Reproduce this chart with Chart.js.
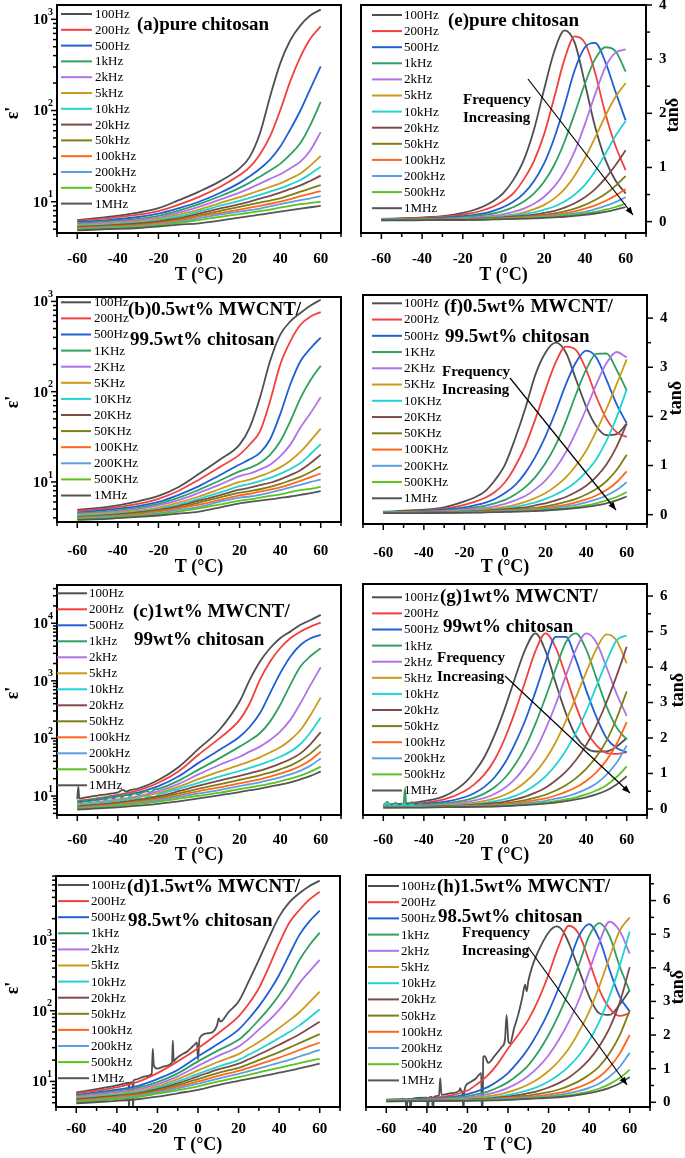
<!DOCTYPE html>
<html><head><meta charset="utf-8">
<script src="https://cdn.jsdelivr.net/npm/chart.js@4.4.1/dist/chart.umd.min.js"></script>
<style>
html,body{margin:0;padding:0;background:#fff}
body{width:685px;height:1158px;position:relative;overflow:hidden}
canvas{position:absolute}
</style></head>
<body>
<script>
// ---------------- DATA ----------------
const LEG_k = ['100Hz','200Hz','500Hz','1kHz','2kHz','5kHz','10kHz','20kHz','50kHz','100kHz','200kHz','500kHz','1MHz'];
const LEG_K = ['100Hz','200Hz','500Hz','1KHz','2KHz','5KHz','10KHz','20KHz','50KHz','100KHz','200KHz','500KHz','1MHz'];
const COLORS = ['#4f4f4f','#f2403f','#1f5fd6','#2ea05f','#b072e6','#cc9a1a','#22d2d2','#7d4a4a','#7e7e14','#ff6619','#5b9fe0','#5bc21f','#555555'];

const T_EPS = [-60,-45,-30,-20,-10,0,10,20,25,30,35,40,45,50,55,60];
const T_TAN = [-60,-45,-30,-20,-15,-10,-5,0,5,10,15,20,25,30,35,40,45,50,55,60];

// (a) eps' pure chitosan
const epsA = [
 [6.3,6.8,7.6,8.5,10.4,12.9,16.6,23.2,31,56,141,327,589,859,1106,1276],
 [6.2,6.6,7.2,7.9,9.3,11.3,14.4,19.6,24,33,52,100,210,387,620,838],
 [6.0,6.3,6.8,7.4,8.5,10.0,12.4,16.1,19,23,29,40,62,100,175,305],
 [5.8,6.1,6.5,7.0,8.0,9.4,11.4,14.2,16.2,18.8,22,26,33,44,70,124],
 [5.6,5.9,6.3,6.7,7.6,8.8,10.5,12.6,14,15.8,17.8,20,23.3,27.5,37,58],
 [5.5,5.7,6.1,6.5,7.2,8.2,9.6,11.2,12.2,13.3,14.5,15.9,17.9,20.4,25,31.7],
 [5.4,5.6,5.9,6.3,6.9,7.8,9.0,10.2,11.0,11.9,12.9,14,15.5,17.3,20.3,24.2],
 [5.3,5.5,5.8,6.1,6.6,7.4,8.4,9.4,10.0,10.8,11.6,12.6,13.8,15.1,17,19.3],
 [5.2,5.4,5.6,5.9,6.4,7.1,7.9,8.8,9.3,9.8,10.3,10.9,11.8,12.9,14.0,15.2],
 [5.1,5.3,5.5,5.8,6.2,6.9,7.5,8.2,8.6,9.0,9.5,10.0,10.7,11.5,12.3,13.1],
 [5.0,5.2,5.4,5.6,6.0,6.6,7.2,7.8,8.1,8.4,8.9,9.4,9.9,10.4,10.9,11.5],
 [4.95,5.1,5.3,5.5,5.85,6.3,6.8,7.3,7.6,7.9,8.2,8.6,9.0,9.4,9.7,10.0],
 [4.85,5.0,5.15,5.35,5.6,5.8,6.2,6.7,6.95,7.2,7.5,7.8,8.1,8.4,8.7,9.0]
];
// (b) eps' 0.5wt% MWCNT
const epsB = [
 [4.9,5.3,6.1,7.0,8.8,12.3,17.5,25.9,40,85,217,426,600,743,900,1043],
 [4.8,5.1,5.7,6.5,8.0,10.6,14.5,20.1,26,36,78,198,360,551,680,762],
 [4.6,4.9,5.4,6.0,7.2,9.0,11.8,15.6,17.8,21,29.5,56,120,217,303,398],
 [4.5,4.7,5.2,5.7,6.7,8.2,10.3,13.1,14.3,16.2,20,28,47,85,135,194],
 [4.4,4.6,5.0,5.5,6.3,7.6,9.3,11.6,12.4,13.7,15.5,19.2,25.9,40,58,86.5],
 [4.3,4.5,4.8,5.2,5.9,6.9,8.3,10.0,10.6,11.6,12.8,14.5,17.2,21.5,28.7,39],
 [4.2,4.4,4.7,5.0,5.6,6.5,7.6,9.0,9.5,10.2,11.1,12.3,13.9,16.2,20.4,26.3],
 [4.1,4.3,4.6,4.9,5.4,6.2,7.1,8.2,8.65,9.2,9.8,10.7,11.9,13.5,16.2,20.1],
 [4.05,4.2,4.5,4.8,5.2,5.9,6.7,7.6,7.9,8.3,8.8,9.5,10.4,11.4,12.9,14.9],
 [4.0,4.15,4.4,4.7,5.1,5.6,6.3,7.1,7.4,7.8,8.2,8.7,9.4,10.3,11.3,12.4],
 [3.95,4.1,4.3,4.5,4.9,5.3,6.0,6.7,6.9,7.2,7.6,8.1,8.7,9.3,10.0,10.6],
 [3.9,4.0,4.2,4.4,4.7,5.1,5.6,6.2,6.4,6.7,7.0,7.3,7.7,8.1,8.4,8.8],
 [3.8,3.9,4.1,4.25,4.45,4.7,5.2,5.8,6.0,6.2,6.4,6.65,6.9,7.2,7.5,7.9]
];
// (c) eps' 1wt% MWCNT (some series have their own noisy temperature lists below)
const epsC = [
 null,
 [8.2,9.8,12.5,17,27,53,100,210,408,1040,2150,3680,5500,7160,8750,10270],
 [7.8,9.2,11.5,14.8,22,38,63,107,158,273,608,1350,2630,4200,5500,6300],
 null,
 [7.2,8.3,10.0,12.2,16.3,24,34.6,48,59,72,94,131,210,408,850,1720],
 [7.0,8.0,9.5,11.3,14.6,19.8,26.5,34.6,40,47,57,70,94,140,256,513],
 null,
 [6.6,7.4,8.6,9.9,12.1,15.1,18.5,22.3,24.8,27.6,31.5,36.5,43.4,55,80,129],
 [6.4,7.1,8.2,9.3,11.1,13.4,16,19,20.8,22.9,25.5,29.1,33.7,41.7,55,79],
 [6.3,6.9,7.9,8.8,10.3,12.2,14.1,16.6,18,19.5,21.7,24.5,27.9,33.2,42.2,59],
 [6.1,6.7,7.6,8.4,9.7,11.1,12.7,14.9,16,17.3,19,21.1,23.8,27.6,33.7,45],
 [5.95,6.5,7.3,8.0,9.0,10.1,11.4,13.2,14.1,15.1,16.4,18,20,22.6,26.5,32.4],
 [5.8,6.2,6.8,7.3,8.1,9.1,10.3,11.7,12.6,13.4,14.6,15.8,17.3,19.5,22.3,26.8]
];
const epsC_100Hz_T = [-60,-59.5,-59,-55,-50,-45,-40,-37.5,-36,-34,-30,-20,-10,0,10,20,25,30,35,40,45,50,55,60];
const epsC_100Hz_V = [8.8,14.5,9.0,9.6,10.2,10.8,11.6,12.8,11.9,12.6,13.5,19,32,67,140,437,1040,2150,3680,5500,7160,9400,11400,13960];
const epsC_1kHz_T = [-60,-58,-56,-54,-52,-50,-48,-46,-44,-42,-40,-38,-36,-34,-32,-30,-28,-26,-24,-22,-20,-10,0,10,20,25,30,35,40,45,50,55,60];
const epsC_1kHz_V = [8.0,7.6,8.5,7.8,8.9,8.2,9.4,8.6,9.8,9.0,10.3,9.5,10.9,10.0,11.3,10.6,11.4,12.1,11.6,12.9,13.3,18.5,29,45,72,92,123,196,380,850,1770,2700,3680];
const epsC_10kHz_T = [-60,-57.5,-55,-52.5,-50,-47.5,-45,-42.5,-40,-37.5,-35,-32.5,-30,-27.5,-25,-22.5,-20,-10,0,10,20,25,30,35,40,45,50,55,60];
const epsC_10kHz_V = [7.4,6.9,7.6,7.1,7.9,7.3,8.1,7.6,8.5,8.0,8.9,8.4,9.3,8.8,9.8,9.6,10.6,13.3,17.1,21.7,27.2,30.7,35,40.6,48,59,80,128,230];

// (d) eps' 1.5wt% MWCNT (100Hz has its own noisy temperature list below)
const epsD = [
 null,
 [6.8,7.8,9.8,13.1,19.2,29.5,48,83,125,208,420,897,1750,2650,3750,4810],
 [6.5,7.3,8.6,10.8,14.5,22.5,34,54,77,115,185,320,620,1180,1850,2590],
 [6.3,7.0,8.1,9.8,13,19.2,27.5,38.7,52,74,108,167,280,522,850,1270],
 [6.1,6.8,7.7,9.1,11.8,16.6,23,31.2,40,54,73,103,153,245,360,522],
 [5.9,6.5,7.3,8.5,10.8,14.3,19,24.3,29.5,36,45,57,73,95,132,186],
 [5.7,6.3,7.0,8.1,10,12.8,16.2,20.2,23.8,28.3,34,41,50,62,80,105],
 [5.6,6.1,6.8,7.8,9.4,11.8,14.8,17.8,20.6,24,28,33,39,46.5,57,70],
 [5.4,5.9,6.6,7.5,8.9,10.8,13.2,15.6,17.6,20,22.8,26,30,34.8,40.3,46.6],
 [5.3,5.8,6.4,7.2,8.4,10.0,12.0,14.1,15.6,17.4,19.4,21.7,24.4,27.8,31.5,35.5],
 [5.2,5.6,6.2,7.0,8.0,9.3,11.0,12.8,14.0,15.3,16.8,18.4,20.2,22.5,25,28],
 [5.1,5.5,6.0,6.7,7.5,8.5,10.0,11.5,12.4,13.4,14.5,15.6,16.8,18.1,19.5,20.9],
 [4.9,5.2,5.6,6.1,6.8,7.6,8.9,10.2,10.9,11.6,12.4,13.3,14.2,15.3,16.5,17.8]
];
const epsD_100Hz_T = [-60,-50,-40,-35,-34.2,-34,-33.8,-32.2,-32,-31.8,-31,-26,-22.8,-22.3,-21.8,-20.2,-16,-12.8,-12.4,-12,-11.5,-9.5,-5,-1.3,-0.5,0,0.8,5,9.4,10.2,11,15,20,25,30,35,40,45,50,55,60];
const epsD_100Hz_V = [7.0,7.8,8.8,9.5,9.6,3,9.6,9.8,3,10.2,10.6,11.8,12.8,29,17,15.2,16.5,18.5,38,19,20,22.5,27,34,35.5,20.5,41,48,62,78,70,95,135,260,522,1080,2140,3400,4570,5800,6890];

// (e) tan delta pure chitosan
const tanE = [
 [0.05,0.07,0.1,0.16,0.21,0.28,0.38,0.53,0.78,1.14,1.7,2.45,3.15,3.53,3.3,2.55,1.75,1.15,0.76,0.52],
 [0.05,0.06,0.09,0.13,0.16,0.21,0.28,0.38,0.53,0.78,1.12,1.62,2.3,3.0,3.42,3.3,2.75,2.0,1.4,0.95],
 [0.04,0.05,0.07,0.1,0.12,0.15,0.2,0.27,0.37,0.52,0.75,1.08,1.55,2.15,2.8,3.22,3.3,2.95,2.4,1.87],
 [0.04,0.05,0.06,0.08,0.1,0.12,0.15,0.2,0.27,0.37,0.52,0.74,1.05,1.48,2.0,2.55,3.0,3.22,3.15,2.77],
 [0.04,0.045,0.05,0.065,0.075,0.09,0.11,0.14,0.18,0.24,0.33,0.46,0.65,0.92,1.3,1.8,2.35,2.85,3.12,3.18],
 [0.035,0.04,0.05,0.06,0.065,0.075,0.09,0.11,0.13,0.17,0.23,0.31,0.43,0.6,0.85,1.17,1.55,1.95,2.3,2.56],
 [0.035,0.04,0.045,0.055,0.06,0.07,0.08,0.1,0.115,0.14,0.17,0.22,0.28,0.37,0.5,0.68,0.93,1.25,1.58,1.86],
 [0.03,0.035,0.04,0.05,0.055,0.06,0.07,0.08,0.095,0.11,0.13,0.16,0.2,0.26,0.34,0.45,0.6,0.8,1.04,1.32],
 [0.03,0.035,0.04,0.045,0.05,0.055,0.06,0.07,0.08,0.09,0.105,0.125,0.15,0.19,0.24,0.31,0.4,0.51,0.66,0.84],
 [0.03,0.03,0.035,0.04,0.045,0.05,0.055,0.06,0.07,0.08,0.09,0.105,0.125,0.15,0.19,0.24,0.3,0.38,0.48,0.6],
 [0.03,0.03,0.035,0.04,0.04,0.045,0.05,0.055,0.06,0.07,0.08,0.09,0.105,0.125,0.15,0.18,0.23,0.29,0.36,0.45],
 [0.025,0.03,0.03,0.035,0.035,0.04,0.045,0.05,0.055,0.06,0.07,0.08,0.09,0.105,0.125,0.15,0.18,0.22,0.27,0.33],
 [0.025,0.025,0.03,0.03,0.035,0.035,0.04,0.045,0.05,0.055,0.06,0.07,0.08,0.09,0.105,0.125,0.15,0.18,0.22,0.27]
];
// (f) tan delta 0.5wt% MWCNT
const tanF = [
 [0.06,0.09,0.15,0.27,0.35,0.47,0.7,1.02,1.55,2.16,2.85,3.3,3.5,3.3,2.75,2.2,1.8,1.62,1.64,1.85],
 [0.05,0.07,0.12,0.2,0.26,0.34,0.46,0.66,0.98,1.4,1.95,2.55,3.1,3.42,3.35,2.95,2.4,1.95,1.68,1.58],
 [0.05,0.06,0.1,0.15,0.19,0.24,0.32,0.44,0.6,0.85,1.18,1.6,2.1,2.65,3.1,3.34,3.2,2.75,2.25,1.86],
 [0.05,0.06,0.08,0.12,0.15,0.18,0.23,0.3,0.41,0.56,0.77,1.05,1.42,1.9,2.45,2.95,3.27,3.28,2.95,2.53],
 [0.04,0.05,0.07,0.1,0.12,0.14,0.17,0.22,0.29,0.38,0.52,0.7,0.95,1.27,1.68,2.15,2.65,3.08,3.31,3.2],
 [0.04,0.05,0.06,0.08,0.09,0.11,0.13,0.16,0.2,0.26,0.34,0.44,0.58,0.76,1.0,1.3,1.7,2.15,2.65,3.16],
 [0.04,0.045,0.055,0.07,0.08,0.09,0.11,0.13,0.16,0.2,0.25,0.32,0.41,0.52,0.67,0.87,1.13,1.5,1.98,2.55],
 [0.035,0.04,0.05,0.06,0.07,0.08,0.095,0.11,0.13,0.15,0.19,0.23,0.29,0.36,0.46,0.59,0.77,1.02,1.38,1.85],
 [0.035,0.04,0.045,0.055,0.06,0.07,0.08,0.09,0.1,0.12,0.14,0.17,0.21,0.26,0.32,0.41,0.52,0.68,0.91,1.22],
 [0.03,0.035,0.04,0.05,0.055,0.06,0.07,0.08,0.09,0.1,0.12,0.14,0.17,0.2,0.25,0.31,0.39,0.5,0.66,0.88],
 [0.03,0.035,0.04,0.045,0.05,0.055,0.06,0.07,0.08,0.09,0.1,0.12,0.14,0.17,0.2,0.25,0.31,0.39,0.5,0.66],
 [0.03,0.03,0.035,0.04,0.045,0.05,0.055,0.06,0.065,0.075,0.085,0.1,0.115,0.135,0.16,0.19,0.23,0.29,0.36,0.46],
 [0.03,0.03,0.035,0.04,0.04,0.045,0.05,0.055,0.06,0.065,0.075,0.085,0.1,0.115,0.135,0.16,0.19,0.23,0.29,0.37]
];
// (g) tan delta 1wt% MWCNT (1kHz and 10kHz have noisy low-T lists below)
const tanG = [
 [0.12,0.18,0.36,0.73,1.05,1.48,2.1,2.85,3.7,4.5,4.95,4.45,3.55,2.7,2.05,1.72,1.62,1.62,1.76,2.0],
 [0.1,0.15,0.27,0.5,0.7,0.98,1.4,2.0,2.75,3.6,4.45,4.95,4.55,3.75,2.9,2.2,1.8,1.58,1.55,1.6],
 [0.09,0.13,0.2,0.33,0.45,0.63,0.9,1.3,1.85,2.5,3.3,4.15,4.85,4.85,4.2,3.35,2.6,2.0,1.72,1.6],
 null,
 [0.07,0.09,0.13,0.19,0.24,0.31,0.43,0.6,0.85,1.2,1.65,2.25,2.95,3.75,4.5,4.95,4.7,4.0,3.25,2.62],
 [0.06,0.08,0.11,0.15,0.18,0.23,0.3,0.4,0.55,0.76,1.03,1.4,1.88,2.48,3.15,3.85,4.5,4.92,4.75,4.1],
 null,
 [0.05,0.06,0.08,0.1,0.12,0.14,0.17,0.21,0.27,0.35,0.46,0.6,0.8,1.05,1.38,1.8,2.35,3.0,3.75,4.57],
 [0.05,0.06,0.07,0.09,0.1,0.11,0.13,0.16,0.2,0.25,0.32,0.4,0.52,0.67,0.87,1.13,1.47,1.92,2.55,3.31],
 [0.05,0.05,0.06,0.08,0.09,0.1,0.11,0.13,0.16,0.2,0.25,0.3,0.38,0.48,0.61,0.79,1.03,1.37,1.83,2.45],
 [0.04,0.05,0.06,0.07,0.08,0.085,0.095,0.11,0.13,0.16,0.19,0.23,0.29,0.35,0.44,0.56,0.72,0.96,1.3,1.79],
 [0.04,0.045,0.05,0.06,0.065,0.07,0.08,0.09,0.11,0.13,0.15,0.18,0.22,0.27,0.33,0.41,0.52,0.67,0.9,1.2],
 [0.04,0.04,0.05,0.055,0.06,0.065,0.07,0.08,0.095,0.11,0.13,0.15,0.18,0.22,0.27,0.33,0.41,0.52,0.69,0.92]
];
const tanG_1kHz_T = [-60,-58,-56,-54,-52,-50,-49.3,-48.7,-48,-46,-44,-42,-40,-36,-30,-20,-15,-10,-5,0,5,10,15,20,25,30,35,40,45,50,55,60];
const tanG_1kHz_V = [0.08,0.2,0.06,0.18,0.07,0.15,0.58,0.12,0.08,0.2,0.07,0.15,0.12,0.14,0.16,0.24,0.32,0.44,0.62,0.88,1.25,1.75,2.4,3.15,3.95,4.7,4.95,4.5,3.7,2.9,2.3,1.95];
const tanG_10kHz_T = [-60,-58,-56,-54,-52,-50,-48,-46,-44,-42,-40,-30,-20,-15,-10,-5,0,5,10,15,20,25,30,35,40,45,50,55,60];
const tanG_10kHz_V = [0.06,0.16,0.05,0.13,0.06,0.15,0.07,0.12,0.06,0.1,0.08,0.09,0.12,0.14,0.17,0.22,0.28,0.37,0.5,0.68,0.92,1.24,1.65,2.15,2.75,3.45,4.15,4.75,4.89];

// (h) tan delta 1.5wt% MWCNT (100Hz has its own noisy temperature list below)
const tanH = [
 null,
 [0.07,0.1,0.18,0.35,0.55,0.8,1.15,1.6,2.0,2.45,3.05,3.8,4.65,5.25,5.0,4.2,3.35,2.8,2.57,2.65],
 [0.06,0.09,0.14,0.24,0.33,0.45,0.63,0.87,1.2,1.6,2.1,2.7,3.4,4.15,4.95,5.3,4.85,3.95,3.15,2.7],
 [0.06,0.08,0.12,0.18,0.24,0.32,0.44,0.6,0.82,1.1,1.5,2.0,2.6,3.3,4.1,4.95,5.33,4.95,4.05,3.3],
 [0.05,0.07,0.1,0.14,0.18,0.24,0.32,0.43,0.58,0.78,1.05,1.4,1.85,2.4,3.05,3.9,4.75,5.37,5.1,4.42],
 [0.05,0.06,0.08,0.11,0.14,0.18,0.23,0.3,0.4,0.53,0.7,0.93,1.22,1.6,2.1,2.7,3.45,4.3,5.1,5.5],
 [0.05,0.055,0.07,0.09,0.11,0.13,0.17,0.22,0.28,0.36,0.47,0.62,0.82,1.07,1.4,1.83,2.4,3.15,4.05,5.08],
 [0.04,0.05,0.06,0.08,0.09,0.11,0.14,0.17,0.21,0.27,0.34,0.44,0.57,0.74,0.97,1.27,1.67,2.2,2.95,4.02],
 [0.04,0.045,0.055,0.07,0.08,0.09,0.11,0.14,0.17,0.2,0.25,0.3,0.38,0.49,0.63,0.82,1.07,1.45,1.98,2.73],
 [0.04,0.04,0.05,0.06,0.07,0.08,0.1,0.12,0.14,0.16,0.19,0.23,0.28,0.35,0.45,0.58,0.76,1.04,1.44,2.0],
 [0.035,0.04,0.05,0.055,0.06,0.07,0.085,0.1,0.115,0.13,0.15,0.18,0.22,0.27,0.34,0.43,0.56,0.76,1.05,1.47],
 [0.03,0.035,0.045,0.05,0.055,0.06,0.07,0.08,0.095,0.11,0.13,0.15,0.18,0.21,0.26,0.32,0.41,0.54,0.72,0.97],
 [0.03,0.035,0.04,0.045,0.05,0.055,0.06,0.07,0.085,0.1,0.115,0.13,0.15,0.18,0.22,0.27,0.34,0.43,0.56,0.75]
];
const tanH_100Hz_T = [-60,-50.5,-50,-49.5,-48.5,-48,-47.5,-40,-39.5,-39,-37.5,-37,-36.5,-34,-33.4,-32.8,-28,-24,-23.6,-23,-22.4,-22,-21.5,-19.5,-16,-13.2,-12.9,-12.5,-12.2,-11.5,-9.7,-7,-3,-1.5,-0.7,0.2,1,3,5,7,8.4,9.2,10,12,15,20,24,27,30,35,40,45,50,55,60];
const tanH_100Hz_V = [0.08,0.09,-0.3,0.09,0.1,-0.3,0.1,0.14,-0.3,0.14,0.16,-0.3,0.16,0.2,0.72,0.22,0.27,0.35,0.42,0.33,0.3,-0.3,0.35,0.57,0.7,0.87,-0.3,-0.3,1.35,1.37,1.17,1.35,1.65,1.86,2.6,1.8,1.75,2.2,2.6,3.1,3.5,3.3,3.6,4.05,4.5,5.05,5.23,5.1,4.73,3.94,3.15,2.65,2.6,2.9,3.33];

const X_TICK_LABELS = [-60,-40,-20,0,20,40,60];

// ---------------- LAYOUT ----------------
const SERIF = '"Liberation Serif","Times New Roman",serif';
const panels = [
 {cx:0,cy:0,cw:345,ch:288,plot:[57,5,341,233],kind:'eps',ymin:4.54,ymax:1435,temps:T_EPS,series:epsA,labels:LEG_k,
  legend:{x1:61,x2:92,tx:95,y0:14,dy:15.8},titles:[['(a)pure chitosan',137,25]],tickPad:9,xTitleY:275,yTitle:[13,113]},
 {cx:345,cy:0,cw:340,ch:288,plot:[361,5,646,233],kind:'tan',ymin:-0.21,ymax:4,temps:T_TAN,series:tanE,labels:LEG_k,
  legend:{x1:372,x2:402,tx:404,y0:15,dy:16.1},titles:[['(e)pure chitosan',448,21]],
  freq:{x:463,y1:100,y2:118,arrow:[528,79,633,215]},tickPad:9,xTitleY:275,yTitle:[673,115]},
 {cx:0,cy:288,cw:345,ch:290,plot:[57,297,341,522],kind:'eps',ymin:3.6,ymax:1119,temps:T_EPS,series:epsB,labels:LEG_K,
  legend:{x1:61,x2:91,tx:94,y0:302.3,dy:16.1},titles:[['(b)0.5wt% MWCNT/',128,310],['99.5wt% chitosan',130,340]],tickPad:12,xTitleY:567,yTitle:[13,402]},
 {cx:345,cy:288,cw:340,ch:290,plot:[363,295,647,524],kind:'tan',ymin:-0.19,ymax:4.47,temps:T_TAN,series:tanF,labels:LEG_K,
  legend:{x1:372,x2:402,tx:404,y0:303.3,dy:16.25},titles:[['(f)0.5wt% MWCNT/',444,307],['99.5wt% chitosan',445,337]],
  freq:{x:442,y1:372,y2:390,arrow:[510,378,616,510]},tickPad:12,xTitleY:567,yTitle:[676,398]},
 {cx:0,cy:578,cw:345,ch:290,plot:[57,585,341,815],kind:'eps',ymin:4.68,ymax:46200,temps:T_EPS,series:epsC,labels:LEG_k,
  custom:{0:[epsC_100Hz_T,epsC_100Hz_V],3:[epsC_1kHz_T,epsC_1kHz_V],6:[epsC_10kHz_T,epsC_10kHz_V]},
  legend:{x1:57,x2:87,tx:89,y0:593.3,dy:16},titles:[['(c)1wt% MWCNT/',133,612],['99wt% chitosan',134,640]],tickPad:8,xTitleY:855,yTitle:[13,693]},
 {cx:345,cy:578,cw:340,ch:290,plot:[363,584,647,815],kind:'tan',ymin:-0.17,ymax:6.34,temps:T_TAN,series:tanG,labels:LEG_k,
  custom:{3:[tanG_1kHz_T,tanG_1kHz_V],6:[tanG_10kHz_T,tanG_10kHz_V]},
  legend:{x1:372,x2:402,tx:404,y0:597.3,dy:16.1},titles:[['(g)1wt% MWCNT/',440,597],['99wt% chitosan',443,627]],
  freq:{x:437,y1:658,y2:677,arrow:[505,676,630,793]},tickPad:8,xTitleY:855,yTitle:[678,690]},
 {cx:0,cy:868,cw:345,ch:290,plot:[56,876,340,1107],kind:'eps',ymin:4.35,ymax:8020,temps:T_EPS,series:epsD,labels:LEG_k,
  custom:{0:[epsD_100Hz_T,epsD_100Hz_V]},
  legend:{x1:58,x2:89,tx:91,y0:885,dy:16.1},titles:[['(d)1.5wt% MWCNT/',127,887],['98.5wt% chitosan',128,921]],tickPad:5,xTitleY:1145,yTitle:[13,988]},
 {cx:345,cy:868,cw:340,ch:290,plot:[366,875,650,1107],kind:'tan',ymin:-0.14,ymax:6.76,temps:T_TAN,series:tanH,labels:LEG_k,
  custom:{0:[tanH_100Hz_T,tanH_100Hz_V]},
  legend:{x1:368,x2:399,tx:401,y0:886,dy:16.2},titles:[['(h)1.5wt% MWCNT/',437,887],['98.5wt% chitosan',438,917]],
  freq:{x:462,y1:933,y2:951,arrow:[528,947,627,1085]},tickPad:5,xTitleY:1145,yTitle:[678,987]}
];

function line(ctx,x1,y1,x2,y2){ctx.beginPath();ctx.moveTo(x1,y1);ctx.lineTo(x2,y2);ctx.stroke();}
function isInt(v){return Math.abs(v-Math.round(v))<1e-6;}

const decoPlugin = {
  id:'deco',
  afterDatasetsDraw(chart){
    const p = chart.$panel, ctx = chart.ctx, ca = chart.chartArea;
    const ox = p.cx, oy = p.cy;
    const xs = chart.scales.x, ys = chart.scales.y;
    ctx.save();
    ctx.strokeStyle = '#000'; ctx.fillStyle = '#000';
    ctx.lineWidth = 2;
    ctx.strokeRect(ca.left, ca.top, ca.right-ca.left, ca.bottom-ca.top);
    ctx.lineWidth = 1.5;
    for (let v=-70; v<=70; v+=10){
      const x = xs.getPixelForValue(v), len = (v%20===0)?5:3;
      line(ctx,x,ca.bottom+1,x,ca.bottom+1+len);
    }
    if (p.kind==='eps'){
      const e0 = Math.floor(Math.log10(p.ymin)), e1 = Math.ceil(Math.log10(p.ymax));
      for (let e=e0; e<=e1; e++){
        for (let k=1;k<=9;k++){
          const v = k*Math.pow(10,e);
          if (v<p.ymin || v>p.ymax) continue;
          const y = ys.getPixelForValue(v), len = k===1?5:3;
          line(ctx,ca.left-1-len,y,ca.left-1,y);
          if (k===1){
            ctx.textBaseline = 'middle'; ctx.textAlign = 'right';
            const expStr = String(e);
            ctx.font = 'bold 10px '+SERIF;
            const ew = ctx.measureText(expStr).width;
            const xr = ca.left - 4;
            ctx.fillText(expStr, xr, y-7);
            ctx.font = 'bold 15px '+SERIF;
            ctx.fillText('10', xr-ew, y+1);
          }
        }
      }
    } else {
      for (let v=0; v<=p.ymax+1e-9; v+=0.5){
        const y = ys.getPixelForValue(v), len = isInt(v)?5:3;
        line(ctx,ca.right+1,y,ca.right+1+len,y);
      }
    }
    const lg = p.legend;
    ctx.font = '13px '+SERIF; ctx.textAlign='left'; ctx.textBaseline='middle';
    p.labels.forEach((lab,i)=>{
      const y = lg.y0 + i*lg.dy - oy;
      ctx.strokeStyle = COLORS[i]; ctx.lineWidth = 2;
      line(ctx, lg.x1-ox, y, lg.x2-ox, y);
      ctx.fillStyle = '#000';
      ctx.fillText(lab, lg.tx-ox, y+0.5);
    });
    ctx.fillStyle = '#000';
    ctx.font = 'bold 19px '+SERIF; ctx.textAlign='left'; ctx.textBaseline='middle';
    p.titles.forEach(t=>ctx.fillText(t[0], t[1]-ox, t[2]-oy));
    if (p.freq){
      const f = p.freq;
      ctx.font = 'bold 15px '+SERIF;
      ctx.fillText('Frequency', f.x-ox, f.y1-oy);
      ctx.fillText('Increasing', f.x-ox, f.y2-oy);
      const [x1,y1,x2,y2] = f.arrow.map((v,i)=> i%2===0 ? v-ox : v-oy);
      ctx.strokeStyle='#000'; ctx.lineWidth=1.2;
      line(ctx,x1,y1,x2,y2);
      const ang = Math.atan2(y2-y1,x2-x1), hl=8, hw=3.2;
      ctx.beginPath();
      ctx.moveTo(x2,y2);
      ctx.lineTo(x2-hl*Math.cos(ang)+hw*Math.sin(ang), y2-hl*Math.sin(ang)-hw*Math.cos(ang));
      ctx.lineTo(x2-hl*Math.cos(ang)-hw*Math.sin(ang), y2-hl*Math.sin(ang)+hw*Math.cos(ang));
      ctx.closePath(); ctx.fill();
    }
    ctx.font = 'bold 18px '+SERIF; ctx.textAlign='center'; ctx.textBaseline='middle';
    ctx.fillText('T (\u00B0C)', (ca.left+ca.right)/2, p.xTitleY-oy);
    ctx.save();
    ctx.translate(p.yTitle[0]-ox, p.yTitle[1]-oy);
    ctx.rotate(-Math.PI/2);
    ctx.fillText(p.kind==='eps' ? "\u03B5'" : 'tan\u03B4', 0, 0);
    ctx.restore();
    ctx.restore();
  }
};

panels.forEach(p=>{
  const cv = document.createElement('canvas');
  cv.width = p.cw; cv.height = p.ch;
  cv.style.left = p.cx+'px'; cv.style.top = p.cy+'px';
  cv.style.width = p.cw+'px'; cv.style.height = p.ch+'px';
  document.body.appendChild(cv);
  const L = p.plot[0]-p.cx, Tp = p.plot[1]-p.cy, R = p.plot[2]-p.cx, B = p.plot[3]-p.cy;
  const isTan = p.kind==='tan';
  const datasets = p.labels.map((lab,i)=>{
    const cust = p.custom && p.custom[i];
    const xsArr = cust ? cust[0] : p.temps;
    const ysArr = cust ? cust[1] : p.series[i];
    return {
      label: lab,
      data: xsArr.map((t,j)=>({x:t, y:ysArr[j]})),
      borderColor: COLORS[i], borderWidth: 1.8,
      pointRadius: 0, fill: false,
      cubicInterpolationMode: 'monotone',
      order: 12 - i
    };
  });
  const yScale = isTan ? {
    type:'linear', position:'right', min:p.ymin, max:p.ymax,
    grid:{display:false}, border:{display:false},
    ticks:{stepSize:0.5, includeBounds:false, autoSkip:false, padding:5, color:'#000',
      font:{family:SERIF,size:15,weight:'bold'},
      callback:v=> isInt(v) ? String(Math.round(v)) : ''},
    afterFit:s=>{ s.width = p.cw - R; s.paddingTop=0; s.paddingBottom=0; }
  } : {
    type:'logarithmic', position:'left', min:p.ymin, max:p.ymax,
    grid:{display:false}, border:{display:false},
    ticks:{display:false},
    afterFit:s=>{ s.width = L; s.paddingTop=0; s.paddingBottom=0; }
  };
  new Chart(cv, {
    type:'line',
    data:{datasets},
    options:{
      responsive:false, animation:false, events:[],
      devicePixelRatio:1,
      layout:{autoPadding:false, padding:{left: isTan ? L : 0, right: isTan ? 0 : p.cw - R, top: Tp, bottom:0}},
      plugins:{legend:{display:false}, tooltip:{enabled:false}},
      scales:{
        x:{type:'linear', position:'bottom', min:-70, max:70,
          grid:{display:false}, border:{display:false},
          ticks:{stepSize:10, includeBounds:false, autoSkip:false, maxRotation:0, padding:p.tickPad, color:'#000',
            font:{family:SERIF,size:15,weight:'bold'},
            callback:v=> X_TICK_LABELS.includes(v) ? String(v) : ''},
          afterFit:s=>{ s.height = p.ch - B; s.paddingLeft=0; s.paddingRight=0; }},
        y:yScale
      }
    },
    plugins:[{id:'panelref', beforeInit(c){ c.$panel = p; }}, decoPlugin]
  });
});
</script>
</body></html>
